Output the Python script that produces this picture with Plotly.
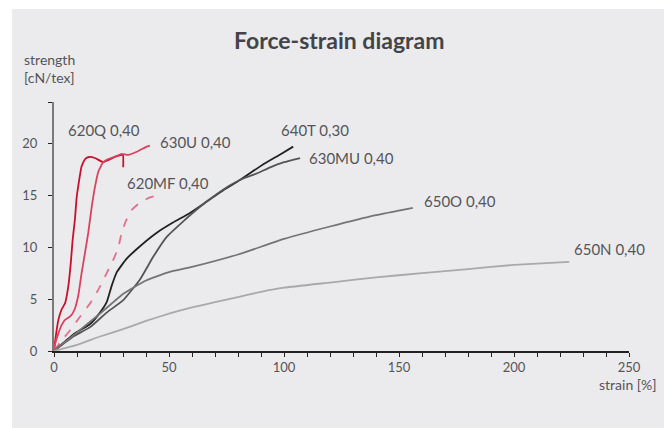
import plotly.graph_objects as go

# ---- data (strain %, strength cN/tex) ----
q620_x = [0, 0.4, 1.9, 3.3, 4.8, 6.2, 7.3, 8.1, 9.1, 9.9, 12.0, 13.5, 15.3, 17.8, 21.4, 23.6, 26.5, 29.4, 30.0, 30.1]
q620_y = [0, 0.8, 3.0, 4.0, 4.6, 6.2, 8.5, 10.7, 12.7, 14.9, 17.8, 18.5, 18.7, 18.6, 18.2, 18.4, 18.7, 18.9, 18.9, 17.7]

u630_x = [0, 0.4, 1.9, 3.3, 4.8, 6.2, 7.7, 9.1, 10.6, 12.0, 13.5, 14.9, 16.4, 17.8, 19.3, 21.4, 23.6, 27.3, 29.4, 32.3, 36.0, 40.3, 41.7]
u630_y = [0, 0.6, 1.7, 2.5, 3.0, 3.2, 3.5, 4.1, 5.4, 7.5, 9.5, 11.4, 13.9, 15.8, 17.3, 18.2, 18.5, 18.8, 19.0, 18.9, 19.2, 19.7, 19.8]

mf620_x = [0, 2.6, 7.0, 11.3, 15.7, 20.0, 22.9, 25.8, 28.0, 29.4, 31.6, 33.8, 37.4, 41.7, 44.7]
mf620_y = [0, 0.8, 2.0, 3.3, 4.6, 6.2, 7.5, 8.8, 10.0, 11.4, 12.7, 13.6, 14.3, 14.8, 15.0]

t640_x = [0, 8.4, 15.7, 20.0, 22.9, 25.1, 27.3, 31.6, 37.4, 44.7, 51.9, 59.1, 66.4, 73.6, 81.0, 91.0, 98.0, 104.0]
t640_y = [0, 1.6, 2.6, 3.7, 4.7, 6.3, 7.6, 8.9, 10.1, 11.4, 12.4, 13.3, 14.4, 15.5, 16.5, 18.0, 18.9, 19.7]

mu630_x = [0, 8.4, 15.7, 22.9, 30.1, 37.4, 43.2, 49.0, 56.2, 63.5, 70.7, 76.0, 82.0, 88.0, 94.0, 100.0, 107.0]
mu630_y = [0, 1.4, 2.3, 3.7, 4.9, 6.9, 9.1, 11.0, 12.5, 13.9, 15.1, 15.9, 16.6, 17.1, 17.7, 18.2, 18.6]

o650_x = [0, 10, 20, 30, 40, 50, 60, 80, 100, 120, 140, 156]
o650_y = [0, 1.8, 3.6, 5.5, 6.8, 7.6, 8.1, 9.3, 10.8, 12.0, 13.1, 13.8]

n650_x = [0, 10, 20, 30, 40, 50, 60, 70, 80, 90, 100, 120, 140, 160, 180, 200, 224]
n650_y = [0, 0.6, 1.4, 2.1, 2.9, 3.6, 4.2, 4.7, 5.2, 5.7, 6.1, 6.6, 7.1, 7.5, 7.9, 8.3, 8.6]

labels = ["620Q 0,40", "630U 0,40", "620MF 0,40", "640T 0,30", "630MU 0,40", "650O 0,40", "650N 0,40"]
label_x = [5.0, 45.0, 30.7, 98.0, 110.2, 160.2, 225.0]
label_y = [21.3, 20.1, 16.2, 21.3, 18.6, 14.5, 9.8]

x_ticks = [0, 50, 100, 150, 200, 250]
y_ticks = [0, 5, 10, 15, 20, 24]
y_ticktext = ["0", "5", "10", "15", "20", ""]

FONT = "Lato"
TXT = "#555559"

series = [
    (q620_x, q620_y, "#c8102e", "solid"),
    (u630_x, u630_y, "#d9435f", "solid"),
    (mf620_x, mf620_y, "#e07189", "dash"),
    (t640_x, t640_y, "#222222", "solid"),
    (mu630_x, mu630_y, "#555555", "solid"),
    (o650_x, o650_y, "#747474", "solid"),
    (n650_x, n650_y, "#a9a9a9", "solid"),
]

fig = go.Figure()
for (xs, ys, col, dash), name in zip(series, labels):
    fig.add_trace(go.Scatter(x=xs, y=ys, mode="lines", name=name,
                             line=dict(color=col, width=1.8, dash=dash, shape="spline", smoothing=0.4),
                             showlegend=False, hoverinfo="skip"))

for t, x, y in zip(labels, label_x, label_y):
    fig.add_annotation(x=x, y=y, text=t, showarrow=False, xanchor="left", yanchor="middle",
                       font=dict(family=FONT, size=15, color=TXT))

# gray panel
fig.add_shape(type="rect", xref="paper", yref="paper", x0=-0.073, x1=1.0713, y0=-0.31, y1=1.3735,
              fillcolor="#ebebed", line=dict(width=0), layer="below")

fig.add_annotation(xref="paper", yref="paper", x=0.496, y=1.25, text="<b>Force-strain diagram</b>",
                   showarrow=False, xanchor="center", yanchor="middle",
                   font=dict(family=FONT, size=23, color="#444448"))
fig.add_annotation(xref="paper", yref="paper", x=-0.056, y=1.135, text="strength<br>[cN/tex]",
                   showarrow=False, xanchor="left", yanchor="middle", align="left",
                   font=dict(family=FONT, size=14, color=TXT))
fig.add_annotation(xref="paper", yref="paper", x=1.052, y=-0.135, text="strain [%]",
                   showarrow=False, xanchor="right", yanchor="middle",
                   font=dict(family=FONT, size=14, color=TXT))

fig.update_layout(
    width=664, height=420,
    margin=dict(l=46, r=43, t=94, b=77),
    paper_bgcolor="white", plot_bgcolor="rgba(0,0,0,0)",
    font=dict(family=FONT, color=TXT),
)
fig.update_xaxes(range=[0, 250], tickvals=x_ticks, showgrid=False, zeroline=False,
                 showline=True, linecolor="#222222", linewidth=1.5,
                 ticks="outside", ticklen=4, tickcolor="#222222", tickwidth=1.2,
                 tickfont=dict(family=FONT, size=13, color=TXT),
                 minor=dict(dtick=10, ticks="outside", ticklen=4, tickcolor="#222222", tickwidth=1),
                 fixedrange=True)
fig.update_yaxes(range=[0, 24], tickvals=y_ticks, ticktext=y_ticktext, showgrid=False, zeroline=False,
                 showline=True, linecolor="#7a7a7a", linewidth=2,
                 ticks="outside", ticklen=4, tickcolor="#222222", tickwidth=1.2,
                 tickfont=dict(family=FONT, size=13, color=TXT), ticklabelstandoff=8,
                 fixedrange=True)

fig.write_html("out.html")
